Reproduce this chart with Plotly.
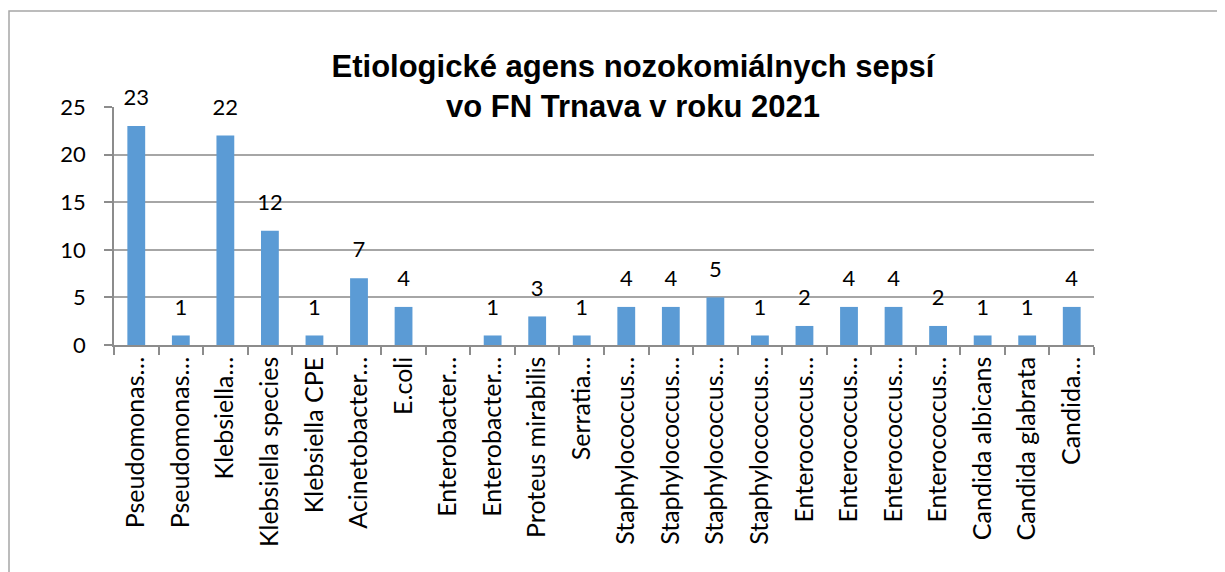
import plotly.graph_objects as go

categories = [
    "Pseudomonas…", "Pseudomonas…", "Klebsiella…", "Klebsiella species",
    "Klebsiella CPE", "Acinetobacter…", "E.coli", "Enterobacter…",
    "Enterobacter…", "Proteus mirabilis", "Serratia…", "Staphylococcus…",
    "Staphylococcus…", "Staphylococcus…", "Staphylococcus…", "Enterococcus…",
    "Enterococcus…", "Enterococcus…", "Enterococcus…", "Candida albicans",
    "Candida glabrata", "Candida…",
]
values = [23, 1, 22, 12, 1, 7, 4, None, 1, 3, 1, 4, 4, 5, 1, 2, 4, 4, 2, 1, 1, 4]
title_lines = ["Etiologické agens nozokomiálnych sepsí", "vo FN Trnava v roku 2021"]
y_ticks = [0, 5, 10, 15, 20, 25]

W, H = 1225, 572
OFF = 8  # default body margin of the html page
ML, MR, MT, MB = 114 - OFF, W - (1094 - OFF), 107 - OFF, H - (345 - OFF)
pw, ph = W - ML - MR, H - MT - MB

xs = list(range(len(categories)))
labels = ["" if v is None else str(v) for v in values]
FONT = "Lato, Carlito, Calibri, sans-serif"

fig = go.Figure()
fig.add_trace(go.Bar(
    x=xs, y=values,
    marker=dict(color="#5B9BD5", line=dict(width=0)),
    width=0.4, hoverinfo="x+y",
))
fig.add_trace(go.Scatter(
    x=xs, y=values, mode="markers+text", text=labels,
    textposition="top center",
    textfont=dict(family=FONT, size=22, color="black"),
    marker=dict(size=23, opacity=0), hoverinfo="skip",
    cliponaxis=False,
))

def px_to_paper_x(p):
    return (p - OFF - ML) / pw

def px_to_paper_y(p):
    return (H - MB - (p - OFF)) / ph

fig.update_layout(
    width=W, height=H,
    margin=dict(l=ML, r=MR, t=MT, b=MB),
    paper_bgcolor="white", plot_bgcolor="white",
    showlegend=False,
    title=dict(
        text="<b>" + "<br>".join(title_lines) + "</b>",
        font=dict(family="Liberation Sans, Arial, sans-serif", size=31, color="black"),
        x=(633 - OFF) / W, xref="container", xanchor="center",
        y=1 - (77 - OFF) / H, yref="container", yanchor="top",
    ),
    shapes=[dict(
        type="rect", xref="paper", yref="paper",
        x0=px_to_paper_x(9), x1=px_to_paper_x(W + 30),
        y0=px_to_paper_y(H + 30), y1=px_to_paper_y(11),
        line=dict(color="#A6A6A6", width=1.5), layer="below",
    )],
)

fig.update_xaxes(
    range=[-0.5, len(categories) - 0.5],
    tickmode="array", tickvals=xs, ticktext=categories,
    tickangle=-90, ticks="outside", ticklen=12, tickcolor="rgba(0,0,0,0)",
    ticklabelstandoff=-12,
    tickfont=dict(family=FONT, size=25, color="black"),
    showline=True, linecolor="#8C8C8C", linewidth=1.5,
    showgrid=False, zeroline=False, automargin=False,
    minor=dict(tickmode="array",
               tickvals=[i - 0.5 for i in range(len(categories) + 1)],
               ticks="outside", ticklen=8, tickcolor="#8C8C8C", tickwidth=1.5,
               showgrid=False),
)
fig.update_yaxes(
    range=[0, 25], tickmode="array", tickvals=y_ticks,
    ticks="outside", ticklen=8, tickcolor="#8C8C8C", tickwidth=1.5,
    ticklabelstandoff=14,
    tickfont=dict(family=FONT, size=22, color="black"),
    showline=True, linecolor="#8C8C8C", linewidth=1.5,
    showgrid=True, gridcolor="#A6A6A6", gridwidth=1.5,
    zeroline=False, automargin=False,
)

fig.write_html("out.html")
